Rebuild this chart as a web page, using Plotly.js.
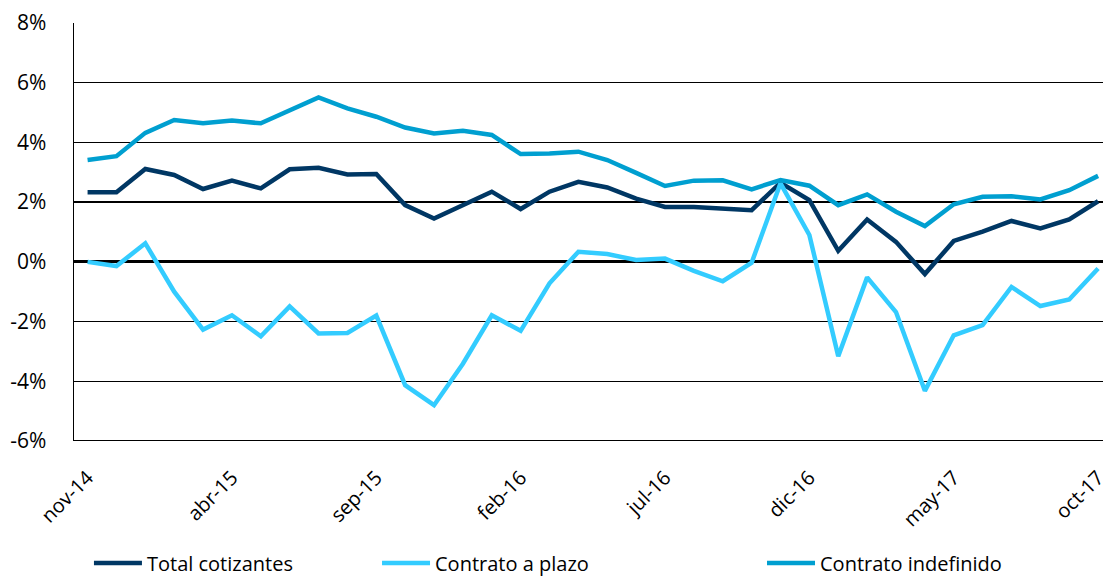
<!DOCTYPE html>
<html>
<head>
<meta charset="utf-8">
<script src="https://cdn.plot.ly/plotly-3.0.1.min.js"></script>
<style>html,body{margin:0;padding:0;background:#fff;}#chart{width:1105px;height:577px;}</style>
</head>
<body>
<div id="chart"></div>
<script>
const months = ["nov-14","dic-14","ene-15","feb-15","mar-15","abr-15","may-15","jun-15","jul-15","ago-15","sep-15","oct-15",
  "nov-15","dic-15","ene-16","feb-16","mar-16","abr-16","may-16","jun-16","jul-16","ago-16","sep-16","oct-16",
  "nov-16","dic-16","ene-17","feb-17","mar-17","abr-17","may-17","jun-17","jul-17","ago-17","sep-17","oct-17"];
const tickLabels = ["nov-14","abr-15","sep-15","feb-16","jul-16","dic-16","may-17","oct-17"];
const totalCotizantes = [2.33,2.33,3.11,2.91,2.44,2.72,2.46,3.10,3.15,2.93,2.94,1.90,
  1.45,1.90,2.35,1.77,2.35,2.68,2.49,2.12,1.84,1.84,1.77,1.73,
  2.65,2.07,0.37,1.42,0.67,-0.41,0.70,1.01,1.37,1.12,1.42,2.03];
const contratoPlazo = [0.00,-0.14,0.62,-1.00,-2.27,-1.79,-2.49,-1.49,-2.40,-2.38,-1.80,-4.13,
  -4.80,-3.41,-1.79,-2.31,-0.72,0.34,0.26,0.06,0.11,-0.30,-0.65,-0.03,
  2.63,0.90,-3.16,-0.52,-1.68,-4.32,-2.46,-2.12,-0.84,-1.48,-1.26,-0.22];
const contratoIndefinido = [3.41,3.54,4.32,4.75,4.64,4.73,4.64,5.06,5.51,5.14,4.86,4.50,
  4.30,4.39,4.25,3.61,3.63,3.69,3.41,2.98,2.54,2.72,2.73,2.43,
  2.74,2.55,1.90,2.26,1.68,1.20,1.93,2.18,2.20,2.09,2.40,2.88];
const yTicks = [-6,-4,-2,0,2,4,6,8];

const font = "'Open Sans', Lato, sans-serif";
function series(name, y, color, legendId){
  return {x: months, y: y.map(v=>v/100), name: name, type:'scatter', mode:'lines',
    legend: legendId,
    line:{color:color, width:4.5, shape:'linear'}, hoverinfo:'skip'};
}
const data = [
  series('Total cotizantes', totalCotizantes, '#003764', 'legend'),
  series('Contrato a plazo', contratoPlazo, '#33CCFF', 'legend2'),
  series('Contrato indefinido', contratoIndefinido, '#009FD0', 'legend3')
];
function legendAt(x){
  return {orientation:'h', xref:'container', yref:'container', x:x, xanchor:'left',
    y:0.0243, yanchor:'middle',
    font:{family:font, size:20, color:'#000'}, itemwidth:48, bgcolor:'rgba(0,0,0,0)'};
}
const layout = {
  width:1105, height:577,
  margin:{l:74, r:2, t:23, b:136},
  paper_bgcolor:'#fff', plot_bgcolor:'#fff',
  showlegend:true,
  font:{family:font, size:20, color:'#000'},
  xaxis:{type:'category', range:[-0.47,35.17], tickmode:'array',
    tickvals:tickLabels, ticktext:tickLabels, tickangle:-45,
    showgrid:false, zeroline:false, showline:false, ticks:'', automargin:false,
    ticklabelstandoff:20, tickfont:{family:font, size:20, color:'#000'}},
  yaxis:{range:[-0.06,0.08], tickmode:'array', tickvals:yTicks.map(v=>v/100),
    ticktext:yTicks.map(v=>v+'%'), showgrid:true, gridcolor:'#000', gridwidth:1.3,
    zeroline:true, zerolinecolor:'#000', zerolinewidth:3, automargin:false,
    showline:true, linecolor:'#000', linewidth:1.5, ticks:'',
    ticklabelstandoff:22, tickfont:{family:font, size:21, color:'#000'}},
  shapes:[{type:'line', xref:'paper', yref:'y', x0:0, x1:1, y0:-0.06, y1:-0.06,
    line:{color:'#000', width:2}}],
  legend: legendAt(0.0805),
  legend2: legendAt(0.3412),
  legend3: legendAt(0.6896)
};
Plotly.newPlot('chart', data, layout, {displayModeBar:false, staticPlot:true});
</script>
</body>
</html>
